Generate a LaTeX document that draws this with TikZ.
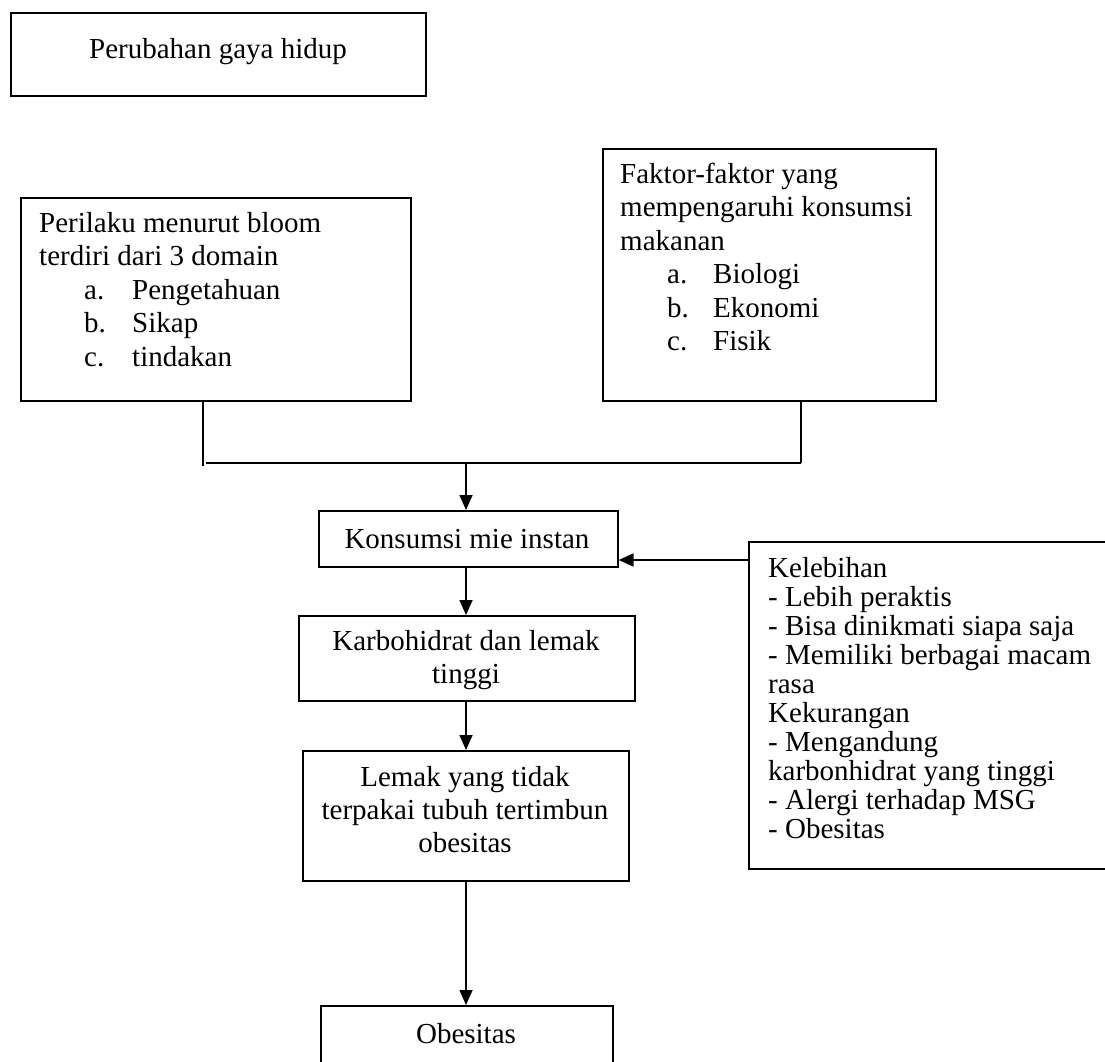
\documentclass[tikz,border=0pt]{standalone}
\usepackage{fontspec}
\setmainfont{Liberation Serif}
\usetikzlibrary{arrows.meta}
\tikzset{
  box/.style={draw, line width=1.6pt, inner sep=0pt, anchor=north west},
  txt/.style={inner sep=0pt, anchor=base west, font=\fontsize{29}{33}\selectfont},
  ctxt/.style={inner sep=0pt, anchor=base, font=\fontsize{29}{33}\selectfont},
  conn/.style={line width=1.6pt},
  arr/.style={line width=1.6pt, -{Triangle[length=15pt,width=13pt]}}
}
\begin{document}
\begin{tikzpicture}[x=1pt,y=-1pt]
\useasboundingbox (0,0) rectangle (1105,1062);
% top box
\node[box,minimum width=415pt,minimum height=83pt] (perubahan) at (10,12) {};
\node[ctxt] (t0) at (218,59) {Perubahan gaya hidup};

% Perilaku
\node[box,minimum width=390pt,minimum height=203pt] (perilaku) at (20,197) {};
\node[txt] (p1) at (39,232) {Perilaku menurut bloom};
\node[txt] (p2) at (39,265) {terdiri dari 3 domain};
\node[txt] (p3) at (84,299) {a.};
\node[txt] (p3b) at (132,299) {Pengetahuan};
\node[txt] (p4) at (84,332) {b.};
\node[txt] (p4b) at (132,332) {Sikap};
\node[txt] (p5) at (84,366) {c.};
\node[txt] (p5b) at (132,366) {tindakan};

% Faktor
\node[box,minimum width=333pt,minimum height=252pt] (faktor) at (602,148) {};
\node[txt] (f1) at (620,183) {Faktor-faktor yang};
\node[txt] (f2) at (620,216) {mempengaruhi konsumsi};
\node[txt] (f3) at (620,250) {makanan};
\node[txt] (f4) at (667,283) {a.};
\node[txt] (f4b) at (713,283) {Biologi};
\node[txt] (f5) at (667,317) {b.};
\node[txt] (f5b) at (713,317) {Ekonomi};
\node[txt] (f6) at (667,350) {c.};
\node[txt] (f6b) at (713,350) {Fisik};

% middle column
\node[box,minimum width=299pt,minimum height=56pt] (konsumsi) at (318,510) {};
\node[ctxt] (k1) at (467,548) {Konsumsi mie instan};

\node[box,minimum width=336pt,minimum height=85pt] (karbo) at (298,615) {};
\node[ctxt] (c1) at (466,650) {Karbohidrat dan lemak};
\node[ctxt] (c2) at (466,683) {tinggi};

\node[box,minimum width=326pt,minimum height=130pt] (lemak) at (302,750) {};
\node[ctxt] (l1) at (465,786) {Lemak yang tidak};
\node[ctxt] (l2) at (465,819) {terpakai tubuh tertimbun};
\node[ctxt] (l3) at (465,852) {obesitas};

\node[box,minimum width=292pt,minimum height=80pt] (obes) at (320,1005) {};
\node[ctxt] (o1) at (466,1043) {Obesitas};

% right box
\node[box,minimum width=370pt,minimum height=327pt] (lebih) at (748,541) {};
\node[txt] (r1) at (768,577) {Kelebihan};
\node[txt] (r2) at (768,606) {- Lebih peraktis};
\node[txt] (r3) at (768,635) {- Bisa dinikmati siapa saja};
\node[txt] (r4) at (768,664) {- Memiliki berbagai macam};
\node[txt] (r5) at (768,693) {rasa};
\node[txt] (r6) at (768,722) {Kekurangan};
\node[txt] (r7) at (768,751) {- Mengandung};
\node[txt] (r8) at (768,780) {karbonhidrat yang tinggi};
\node[txt] (r9) at (768,809) {- Alergi terhadap MSG};
\node[txt] (r10) at (768,838) {- Obesitas};

% connectors
\coordinate (jl) at (203,463);
\coordinate (jr) at (801,463);
\coordinate (jm) at (466,463);
\coordinate (ry) at (0,560);
\draw[conn] (perilaku.south -| jl) -- ([yshift=-3pt]jl);
\draw[conn] (faktor.south -| jr) -- (jr);
\draw[conn] ([xshift=3pt]jl) -- (jr);
\draw[arr] (jm) -- (konsumsi.north -| jm);
\draw[arr] (lebih.west |- ry) -- (konsumsi.east |- ry);
\draw[arr] (konsumsi.south -| jm) -- (karbo.north -| jm);
\draw[arr] (karbo.south -| jm) -- (lemak.north -| jm);
\draw[arr] (lemak.south -| jm) -- (obes.north -| jm);
\end{tikzpicture}
\end{document}
